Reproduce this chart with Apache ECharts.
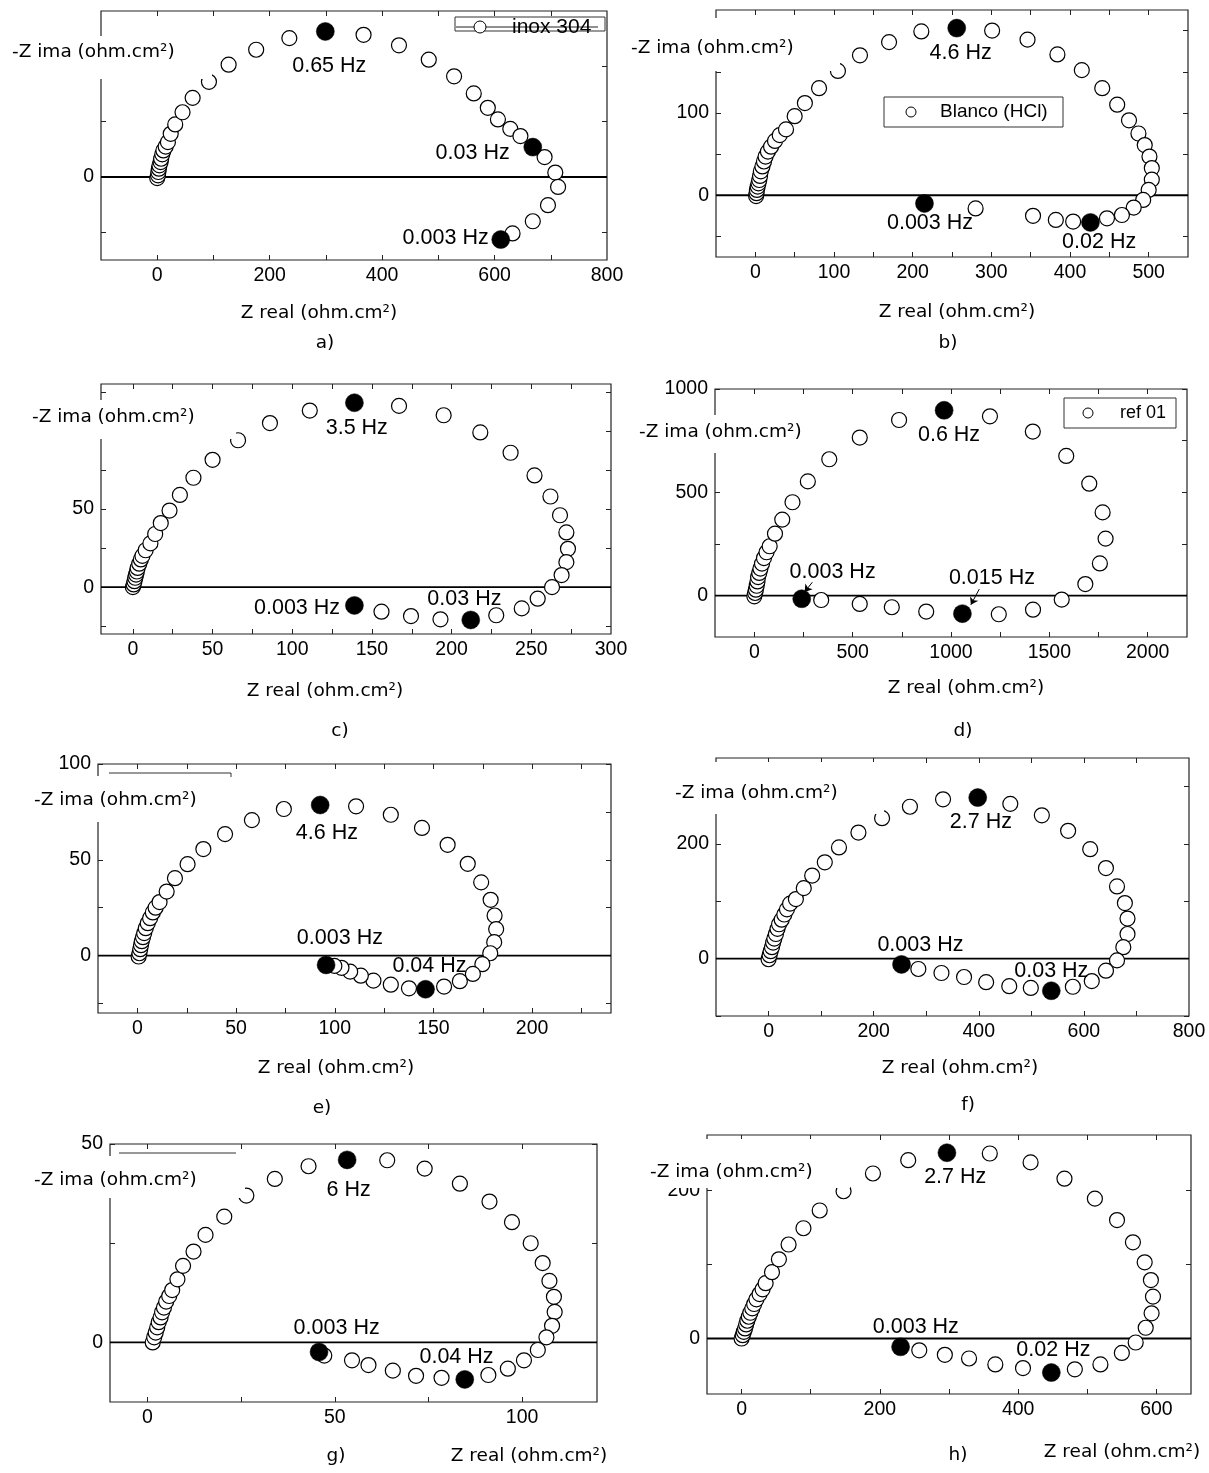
<!DOCTYPE html>
<html><head><meta charset="utf-8">
<script src="https://cdn.jsdelivr.net/npm/echarts/dist/echarts.min.js"></script>
<style>html,body{margin:0;padding:0;background:#fff}#c{width:1209px;height:1473px}</style>
</head><body><div id="c"></div>
<script>
// ---------------- DATA ----------------
// a) inox 304
const aOpen = [[0,-2],[1.4,3],[2,9],[3,15],[4,21],[6,27],[7,33],[9,41],[11,48],[15,55],[19,63],[24,78],[32,95],[45,117],[63,143],[92,172],[127,203],[176,230],[235,251],[367,257],[430,238],[483,212],[528,182],[563,151],[588,125],[606,104],[628,87],[646,74],[689,36],[708,8],[713,-18],[695,-51],[668,-80],[632,-102]];
const aFilled = [[299,263],[668,54],[611,-113]];
const aNotes = [[306,201,'0.65 Hz'],[561,43,'0.03 Hz'],[513,-110,'0.003 Hz']];
const aXRange = [-100,800], aYRange = [-150,300];
const aXTicks = [0,100,200,300,400,500,600,700], aXLabels = [0,200,400,600,800];
const aYTicks = [-100,0,100,200], aYLabels = [0];

// b) Blanco (HCl)
const bOpen = [[1,-1],[1.5,2.5],[2,6.5],[3,10.5],[4,14.5],[5,18.5],[6,23.5],[7,29],[9,35],[11,41],[13,47],[16,53],[20,59],[25,66],[31,73],[39,80],[50,96],[63,112],[81,130],[105,151],[133,170],[170,186],[211,199],[301,200],[346,189],[384,171],[415,152],[441,130],[460,110],[475,91],[487,75],[495,61],[501,47],[504,33],[504,19],[500,6.5],[493,-5.7],[481,-15],[466,-24],[447,-28],[404,-32],[382,-30],[353,-25],[280,-16]];
const bFilled = [[256,203],[426,-33],[215,-10]];
const bNotes = [[261,173,'4.6 Hz'],[222,-34,'0.003 Hz'],[437,-57,'0.02 Hz']];
const bXRange = [-50,550], bYRange = [-75,225];
const bXTicks = [0,50,100,150,200,250,300,350,400,450,500], bXLabels = [0,100,200,300,400,500];
const bYTicks = [-50,0,50,100,150,200], bYLabels = [0,100];

// c)
const cOpen = [[0,0],[0.5,1.7],[1,3.8],[1.5,6],[2,8],[2.5,10],[3,12.3],[4,15],[5,17.7],[6,20],[8,23.6],[11,28],[14,34],[17.5,41],[23,49],[29.5,59],[38,70],[50,81.5],[66,94],[86,105],[111,113],[167,116],[195,110],[218,99],[237,86],[252,71.5],[262,58],[268,46],[272,35],[273,24.5],[272,16],[269,7.7],[263,0],[254,-7.4],[244,-13.6],[228,-18],[193,-20.6],[174.5,-18.5],[156,-15.7]];
const cFilled = [[139,118],[212,-21],[139,-11.7]];
const cNotes = [[140.5,102,'3.5 Hz'],[103,-13.2,'0.003 Hz'],[208,-7.4,'0.03 Hz']];
const cXRange = [-20,300], cYRange = [-30,130];
const cXTicks = [0,25,50,75,100,125,150,175,200,225,250,275], cXLabels = [0,50,100,150,200,250,300];
const cYTicks = [-25,0,25,50,75,100,125], cYLabels = [0,50];

// d) ref 01
const dOpen = [[0,-3],[4,13],[8,29],[12,48],[16,69],[19,90],[25,110],[31,131],[39,155],[49,182],[62,210],[78,239],[105,300],[142,368],[194,452],[272,553],[381,660],[536,765],[736,850],[1198,868],[1416,794],[1586,676],[1703,542],[1771,403],[1786,276],[1757,156],[1683,56],[1563,-19],[1417,-68],[1243,-90],[874,-77],[699,-56],[536,-40],[340,-21]];
const dFilled = [[965,897],[1058,-87],[241,-15]];
const dNotes = [[990,779,'0.6 Hz'],[398,115,'0.003 Hz'],[1208,85,'0.015 Hz']];
const dArrows = [[[295,65],[256,18]],[[1144,32],[1101,-44]]];
const dXRange = [-200,2200], dYRange = [-200,1000];
const dXTicks = [0,250,500,750,1000,1250,1500,1750,2000], dXLabels = [0,500,1000,1500,2000];
const dYTicks = [0,250,500,750,1000], dYLabels = [0,500,1000];

// e)
const eOpen = [[0.6,-0.5],[1,1.2],[1.4,3.3],[1.8,5.4],[2.2,7.5],[2.8,9.6],[3.4,11.7],[4.2,14.3],[5.2,16.9],[6.4,19.5],[7.8,22.5],[9.2,25],[11.2,27.9],[14.8,33.4],[19,40.4],[25.4,47.7],[33.4,55.6],[44.4,63.4],[58,70.7],[74.2,76.5],[110.8,77.9],[128.4,73.5],[144.2,66.6],[157.2,57.8],[167.4,47.9],[174.2,38.2],[179,29.1],[181,20.9],[181.8,13.8],[180.8,7],[178.8,1.2],[174.8,-4.5],[170,-9.6],[163.4,-13.4],[155.4,-16.2],[137.6,-17.1],[128.4,-15.2],[119.6,-13.1],[113.2,-10.5],[107.8,-8.4],[103.4,-6.4],[99.8,-5.4]];
const eFilled = [[92.6,78.6],[146,-17.6],[95.6,-4.9]];
const eNotes = [[96,64,'4.6 Hz'],[102.6,9,'0.003 Hz'],[148,-5.7,'0.04 Hz']];
const eXRange = [-20,240], eYRange = [-30,100];
const eXTicks = [0,25,50,75,100,125,150,175,200,225], eXLabels = [0,50,100,150,200];
const eYTicks = [-25,0,25,50,75,100], eYLabels = [0,50,100];

// f)
const fOpen = [[0,-1],[2,6],[4,13],[6.5,20],[8.7,28],[11,35],[14,43],[17,52],[20,60],[25,68],[30,77],[35,86],[41,96],[52,104],[67,123],[83,145],[107,168],[134,194],[171,220],[216,245],[269,265],[332,278],[460,270],[520,250],[570,223],[612,191],[642,158],[663,126],[678,97],[683,70],[683,43],[675,20],[663,-3],[642,-21],[615,-39],[579,-49],[499,-51],[458,-48],[414,-41],[372,-32],[329,-25],[285,-18]];
const fFilled = [[398,281],[538,-56],[253,-10]];
const fNotes = [[404,238,'2.7 Hz'],[289,23,'0.003 Hz'],[538,-22,'0.03 Hz']];
const fXRange = [-100,800], fYRange = [-100,350];
const fXTicks = [0,100,200,300,400,500,600,700], fXLabels = [0,200,400,600,800];
const fYTicks = [-100,0,100,200,300], fYLabels = [0,200];

// g)
const gOpen = [[1.4,0],[1.8,1.3],[2.2,2.5],[2.6,3.8],[3,5.1],[3.5,6.3],[3.9,7.6],[4.4,8.8],[5,10.3],[5.8,11.7],[6.6,13.2],[8,15.9],[9.5,19.3],[12.3,22.9],[15.5,27.1],[20.5,31.7],[26.4,37],[34,41.2],[43,44.4],[64,45.9],[74,43.8],[83.4,40],[91.3,35.5],[97.3,30.3],[102.3,25],[105.5,20],[107.3,15.5],[108.5,11.5],[108.7,7.7],[108,4.2],[106.5,1.3],[104.2,-1.9],[100.5,-4.5],[96.2,-6.6],[91,-8.2],[78.5,-8.9],[71.7,-8.4],[65.5,-7.1],[59,-5.7],[54.6,-4.5],[47.2,-3.3]];
const gFilled = [[53.3,46],[84.7,-9.3],[45.8,-2.4]];
const gNotes = [[53.7,38.3,'6 Hz'],[50.5,3.5,'0.003 Hz'],[82.5,-3.8,'0.04 Hz']];
const gXRange = [-10,120], gYRange = [-15,50];
const gXTicks = [0,25,50,75,100], gXLabels = [0,50,100];
const gYTicks = [0,25,50], gYLabels = [0,50];

// h)
const hOpen = [[0,0],[1.7,4.5],[3.3,9],[5,13.6],[6.6,19],[8.3,24],[10.5,29.4],[12.7,34.8],[15.5,40.7],[18.2,46.6],[21.5,53],[26,60],[30.4,66.5],[34.8,74.7],[44,89.6],[54,107],[68,127],[89.5,149],[113,173],[147.5,199],[190,223],[241,241],[359,250],[418,238],[467,216],[511,189],[543,160],[566,130],[583,103],[592,79],[595,56.6],[593,34],[584.5,14.5],[570,-5.4],[550,-19.5],[519,-35],[482,-41.6],[407,-40],[367,-35],[329,-27],[294,-22],[257,-16]];
const hFilled = [[297,251],[448,-46],[230,-11.3]];
const hNotes = [[309,218.5,'2.7 Hz'],[252,15,'0.003 Hz'],[451,-16,'0.02 Hz']];
const hXRange = [-50,650], hYRange = [-75,275];
const hXTicks = [0,100,200,300,400,500,600], hXLabels = [0,200,400,600];
const hYTicks = [0,100,200], hYLabels = [0,200];

const XTITLE = 'Z real (ohm.cm²)';
const YTITLE = '-Z ima (ohm.cm²)';
const LETTERS = ['a)','b)','c)','d)','e)','f)','g)','h)'];

// ---------------- LAYOUT (pixels) ----------------
const LAYOUT = [
  {grid:[101,11,506,249], ylab:[12,52], mask:[8,36,204,43], xlab:[319,313], letter:[325,343]},
  {grid:[716,10,472,247], ylab:[631,48], mask:[628,18,212,53], xlab:[957,312], letter:[948,343]},
  {grid:[101,384,510,250], ylab:[32,417], mask:[28,400,208,39], xlab:[325,691], letter:[340,731]},
  {grid:[715,389,472,248], ylab:[639,432], mask:[636,415,170,38], xlab:[966,688], letter:[963,731]},
  {grid:[98,764,513,249], ylab:[34,800], mask:[30,776,172,46], xlab:[336,1068], letter:[322,1108]},
  {grid:[716,758,473,258], ylab:[675,793], mask:[672,762,212,52], xlab:[960,1068], letter:[968,1105]},
  {grid:[110,1144,487,258], ylab:[34,1180], mask:[30,1156,215,42], xlab:[529,1456], letter:[336,1456]},
  {grid:[707,1135,484,259], ylab:[650,1172], mask:[640,1139,210,49], xlab:[1122,1452], letter:[958,1455]}
];

const PANELS = [
  {open:aOpen, filled:aFilled, notes:aNotes, xr:aXRange, yr:aYRange, xt:aXTicks, xl:aXLabels, yt:aYTicks, yl:aYLabels},
  {open:bOpen, filled:bFilled, notes:bNotes, xr:bXRange, yr:bYRange, xt:bXTicks, xl:bXLabels, yt:bYTicks, yl:bYLabels},
  {open:cOpen, filled:cFilled, notes:cNotes, xr:cXRange, yr:cYRange, xt:cXTicks, xl:cXLabels, yt:cYTicks, yl:cYLabels},
  {open:dOpen, filled:dFilled, notes:dNotes, xr:dXRange, yr:dYRange, xt:dXTicks, xl:dXLabels, yt:dYTicks, yl:dYLabels, arrows:dArrows},
  {open:eOpen, filled:eFilled, notes:eNotes, xr:eXRange, yr:eYRange, xt:eXTicks, xl:eXLabels, yt:eYTicks, yl:eYLabels},
  {open:fOpen, filled:fFilled, notes:fNotes, xr:fXRange, yr:fYRange, xt:fXTicks, xl:fXLabels, yt:fYTicks, yl:fYLabels},
  {open:gOpen, filled:gFilled, notes:gNotes, xr:gXRange, yr:gYRange, xt:gXTicks, xl:gXLabels, yt:gYTicks, yl:gYLabels},
  {open:hOpen, filled:hFilled, notes:hNotes, xr:hXRange, yr:hYRange, xt:hXTicks, xl:hXLabels, yt:hYTicks, yl:hYLabels}
];

const FT = '"Liberation Sans", Arial, sans-serif';
const FV = '"DejaVu Sans", Verdana, sans-serif';
const INK = '#000';

const grids = [], xAxes = [], yAxes = [], series = [], graphics = [];

function tickCfg(vals){ return {show:true, inside:true, length:5, customValues:vals, lineStyle:{color:'#222', width:1}}; }
const plain = (v) => String(v);

PANELS.forEach((p, i) => {
  const L = LAYOUT[i];
  grids.push({left:L.grid[0], top:L.grid[1], width:L.grid[2], height:L.grid[3], show:true,
    borderColor:'#222', borderWidth:1.2, backgroundColor:'rgba(0,0,0,0)', containLabel:false});
  const xi = xAxes.length, yi = yAxes.length;
  const common = {type:'value', gridIndex:i, axisLine:{show:false, onZero:false}, splitLine:{show:false}, minorTick:{show:false}};
  xAxes.push(Object.assign({}, common, {min:p.xr[0], max:p.xr[1], position:'bottom', axisTick:tickCfg(p.xt),
    axisLabel:{show:true, customValues:p.xl, formatter:plain, fontSize:19.5, fontFamily:FT, color:INK, margin:6}}));
  xAxes.push(Object.assign({}, common, {min:p.xr[0], max:p.xr[1], position:'top', axisTick:tickCfg(p.xt), axisLabel:{show:false}}));
  yAxes.push(Object.assign({}, common, {min:p.yr[0], max:p.yr[1], position:'left', axisTick:tickCfg(p.yt),
    axisLabel:{show:true, customValues:p.yl, formatter:plain, fontSize:19.5, fontFamily:FT, color:INK, margin:7}}));
  yAxes.push(Object.assign({}, common, {min:p.yr[0], max:p.yr[1], position:'right', axisTick:tickCfg(p.yt), axisLabel:{show:false}}));

  // zero line across the plot
  series.push({type:'line', xAxisIndex:xi, yAxisIndex:yi, data:[[p.xr[0],0],[p.xr[1],0]], symbol:'none',
    lineStyle:{color:'#000', width:1.8}, z:1, silent:true, animation:false});
  series.push({type:'scatter', xAxisIndex:xi, yAxisIndex:yi, data:p.open, symbol:'circle', symbolSize:15,
    itemStyle:{color:'#fff', borderColor:'#000', borderWidth:1.2, opacity:1}, z:3, animation:false, silent:true});
  series.push({type:'scatter', xAxisIndex:xi, yAxisIndex:yi, data:p.filled, symbol:'circle', symbolSize:18,
    itemStyle:{color:'#000', borderColor:'#000', borderWidth:0.5, opacity:1}, z:4, animation:false, silent:true});
  series.push({type:'scatter', xAxisIndex:xi, yAxisIndex:yi, data:p.notes, symbolSize:1,
    itemStyle:{color:'rgba(0,0,0,0)', opacity:1}, z:5, animation:false, silent:true,
    label:{show:true, position:'inside', formatter:(q)=>q.value[2], fontSize:21.5, fontFamily:FT, color:'#000',
      textBorderWidth:0, opacity:1}});
  if (p.arrows) {
    series.push({type:'lines', coordinateSystem:'cartesian2d', xAxisIndex:xi, yAxisIndex:yi,
      data:p.arrows.map(c=>({coords:c})), symbol:['none','arrow'], symbolSize:7,
      lineStyle:{color:'#000', width:1, opacity:1}, z:5, animation:false, silent:true});
  }

  // y title with white box covering the frame, as in the source
  graphics.push({type:'rect', shape:{x:L.mask[0], y:L.mask[1], width:L.mask[2], height:L.mask[3]}, style:{fill:'#fff'}, z:99});
  graphics.push({type:'text', x:L.ylab[0], y:L.ylab[1], z:100,
    style:{text:YTITLE, font:'18.5px '+FV, fill:'#000', textAlign:'left', textVerticalAlign:'middle', align:'left', verticalAlign:'middle'}});
  graphics.push({type:'text', x:L.xlab[0], y:L.xlab[1], z:100,
    style:{text:XTITLE, font:'18.5px '+FV, fill:'#000', textAlign:'center', textVerticalAlign:'middle', align:'center', verticalAlign:'middle'}});
  graphics.push({type:'text', x:L.letter[0], y:L.letter[1], z:100,
    style:{text:LETTERS[i], font:'18.5px '+FV, fill:'#000', textAlign:'center', textVerticalAlign:'middle', align:'center', verticalAlign:'middle'}});
});

// legends
function legendBox(x, y, w, h, cx, cy, r, label, tx, fs, strike) {
  graphics.push({type:'rect', shape:{x, y, width:w, height:h}, style:{fill:'#fff', stroke:'#333', lineWidth:1}, z:100});
  if (strike) graphics.push({type:'line', shape:{x1:x+1, y1:cy, x2:tx+86, y2:cy}, style:{stroke:'#222', lineWidth:1}, z:101});
  graphics.push({type:'circle', shape:{cx, cy, r}, style:{fill:'#fff', stroke:'#000', lineWidth:1}, z:102});
  graphics.push({type:'text', x:tx, y:cy, z:101,
    style:{text:label, font:fs+'px '+FT, fill:'#000', textAlign:'left', textVerticalAlign:'middle', align:'left', verticalAlign:'middle'}});
}
legendBox(455, 17, 150, 14, 480, 27, 6, 'inox 304', 512, 21, true);
legendBox(884, 97, 179, 30, 911, 112, 5, 'Blanco (HCl)', 940, 19, false);
legendBox(1064, 398, 112, 30, 1088, 413, 5, 'ref 01', 1120, 18, false);

// leftover legend-frame fragments at top-left of e) and g)
graphics.push({type:'polyline', shape:{points:[[109,773],[231,773],[231,777]]}, style:{stroke:'#333', lineWidth:1, fill:null}, z:100});
graphics.push({type:'line', shape:{x1:119, y1:1153, x2:236, y2:1153}, style:{stroke:'#333', lineWidth:1}, z:100});

const chart = echarts.init(document.getElementById('c'), null, {renderer:'canvas'});
chart.setOption({
  animation:false,
  backgroundColor:'#fff',
  grid:grids, xAxis:xAxes, yAxis:yAxes, series:series, graphic:{elements:graphics}
});
</script></body></html>
